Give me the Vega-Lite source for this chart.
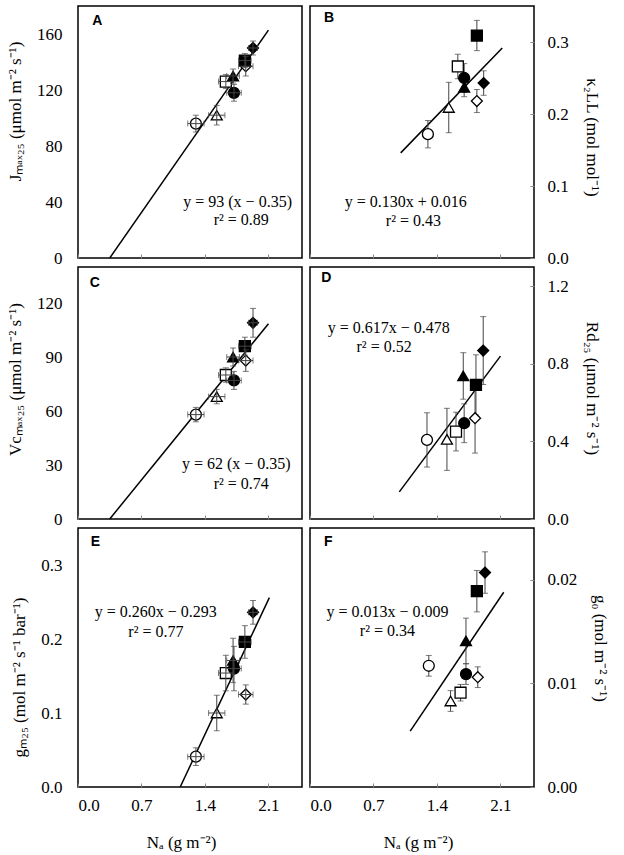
{
"$schema":"https://vega.github.io/schema/vega-lite/v6.json",
"background":"white",
"padding":{"left":5,"top":5,"right":5,"bottom":5},
"config":{
 "view":{"stroke":"black","strokeWidth":1.5},
 "axis":{"domain":false,"grid":false,"labelFont":"Liberation Serif","labelFontSize":17,"titleFont":"Liberation Serif","titleFontSize":17,"titleFontWeight":"normal","labelColor":"black","titleColor":"black","tickColor":"#888"}
},
"datasets":{
 "pts":[
  {"p":"A","t":"OC","na":1.30,"y":96,"ylo":90,"yhi":102,"xlo":1.21,"xhi":1.39},
  {"p":"A","t":"OT","na":1.53,"y":102,"ylo":95,"yhi":109,"xlo":1.44,"xhi":1.62},
  {"p":"A","t":"OS","na":1.63,"y":126,"ylo":121,"yhi":131,"xlo":1.55,"xhi":1.71},
  {"p":"A","t":"OD","na":1.85,"y":137,"ylo":130,"yhi":144,"xlo":1.77,"xhi":1.93},
  {"p":"A","t":"FC","na":1.72,"y":118,"ylo":112,"yhi":124,"xlo":1.64,"xhi":1.80},
  {"p":"A","t":"FT","na":1.71,"y":130,"ylo":125,"yhi":135,"xlo":1.64,"xhi":1.78},
  {"p":"A","t":"FS","na":1.84,"y":141,"ylo":136,"yhi":146,"xlo":1.77,"xhi":1.91},
  {"p":"A","t":"FD","na":1.93,"y":150,"ylo":145,"yhi":155,"xlo":1.88,"xhi":1.98},
  {"p":"C","t":"OC","na":1.30,"y":58,"ylo":54,"yhi":62,"xlo":1.21,"xhi":1.39},
  {"p":"C","t":"OT","na":1.53,"y":68,"ylo":64,"yhi":72,"xlo":1.44,"xhi":1.62},
  {"p":"C","t":"OS","na":1.63,"y":80,"ylo":76,"yhi":84,"xlo":1.55,"xhi":1.71},
  {"p":"C","t":"OD","na":1.85,"y":88,"ylo":82,"yhi":94,"xlo":1.77,"xhi":1.93},
  {"p":"C","t":"FC","na":1.72,"y":77,"ylo":72,"yhi":82,"xlo":1.64,"xhi":1.80},
  {"p":"C","t":"FT","na":1.71,"y":90,"ylo":85,"yhi":95,"xlo":1.64,"xhi":1.78},
  {"p":"C","t":"FS","na":1.84,"y":96,"ylo":91,"yhi":101,"xlo":1.77,"xhi":1.91},
  {"p":"C","t":"FD","na":1.93,"y":109,"ylo":101,"yhi":117,"xlo":1.88,"xhi":1.98},
  {"p":"E","t":"OC","na":1.30,"y":0.041,"ylo":0.029,"yhi":0.053,"xlo":1.21,"xhi":1.39},
  {"p":"E","t":"OT","na":1.53,"y":0.100,"ylo":0.076,"yhi":0.124,"xlo":1.44,"xhi":1.62},
  {"p":"E","t":"OS","na":1.63,"y":0.154,"ylo":0.130,"yhi":0.178,"xlo":1.55,"xhi":1.71},
  {"p":"E","t":"OD","na":1.85,"y":0.125,"ylo":0.112,"yhi":0.138,"xlo":1.77,"xhi":1.93},
  {"p":"E","t":"FC","na":1.72,"y":0.160,"ylo":0.130,"yhi":0.190,"xlo":1.64,"xhi":1.80},
  {"p":"E","t":"FT","na":1.71,"y":0.171,"ylo":0.141,"yhi":0.201,"xlo":1.64,"xhi":1.78},
  {"p":"E","t":"FS","na":1.84,"y":0.196,"ylo":0.174,"yhi":0.218,"xlo":1.77,"xhi":1.91},
  {"p":"E","t":"FD","na":1.93,"y":0.236,"ylo":0.220,"yhi":0.252,"xlo":1.88,"xhi":1.98},
  {"p":"B","t":"OC","na":1.30,"y":0.172,"ylo":0.153,"yhi":0.191},
  {"p":"B","t":"OT","na":1.53,"y":0.209,"ylo":0.174,"yhi":0.244},
  {"p":"B","t":"OS","na":1.63,"y":0.266,"ylo":0.249,"yhi":0.283},
  {"p":"B","t":"OD","na":1.84,"y":0.218,"ylo":0.202,"yhi":0.234},
  {"p":"B","t":"FC","na":1.70,"y":0.250,"ylo":0.230,"yhi":0.270},
  {"p":"B","t":"FT","na":1.70,"y":0.237,"ylo":0.224,"yhi":0.250},
  {"p":"B","t":"FS","na":1.84,"y":0.309,"ylo":0.288,"yhi":0.330},
  {"p":"B","t":"FD","na":1.915,"y":0.243,"ylo":0.226,"yhi":0.260},
  {"p":"D","t":"OC","na":1.29,"y":0.408,"ylo":0.268,"yhi":0.548},
  {"p":"D","t":"OT","na":1.51,"y":0.411,"ylo":0.251,"yhi":0.571},
  {"p":"D","t":"OS","na":1.61,"y":0.451,"ylo":0.351,"yhi":0.551},
  {"p":"D","t":"OD","na":1.82,"y":0.52,"ylo":0.34,"yhi":0.70},
  {"p":"D","t":"FC","na":1.70,"y":0.494,"ylo":0.394,"yhi":0.594},
  {"p":"D","t":"FT","na":1.69,"y":0.738,"ylo":0.618,"yhi":0.858},
  {"p":"D","t":"FS","na":1.83,"y":0.692,"ylo":0.537,"yhi":0.847},
  {"p":"D","t":"FD","na":1.91,"y":0.869,"ylo":0.694,"yhi":1.044},
  {"p":"F","t":"OC","na":1.31,"y":0.0117,"ylo":0.0107,"yhi":0.0127},
  {"p":"F","t":"OT","na":1.55,"y":0.0083,"ylo":0.0073,"yhi":0.0093},
  {"p":"F","t":"OS","na":1.66,"y":0.0091,"ylo":0.0083,"yhi":0.0099},
  {"p":"F","t":"OD","na":1.85,"y":0.0106,"ylo":0.0096,"yhi":0.0116},
  {"p":"F","t":"FC","na":1.72,"y":0.0109,"ylo":0.0099,"yhi":0.0119},
  {"p":"F","t":"FT","na":1.72,"y":0.0141,"ylo":0.0119,"yhi":0.0163},
  {"p":"F","t":"FS","na":1.84,"y":0.0189,"ylo":0.0169,"yhi":0.0209},
  {"p":"F","t":"FD","na":1.93,"y":0.0207,"ylo":0.0187,"yhi":0.0227}
 ],
 "lines":[
  {"p":"A","na":0.35,"y":0},{"p":"A","na":2.1,"y":162.75},
  {"p":"B","na":1.0,"y":0.146},{"p":"B","na":2.12,"y":0.2916},
  {"p":"C","na":0.35,"y":0},{"p":"C","na":2.1,"y":108.5},
  {"p":"D","na":0.985,"y":0.14},{"p":"D","na":2.1,"y":0.84},
  {"p":"E","na":1.127,"y":0},{"p":"E","na":2.11,"y":0.256},
  {"p":"F","na":1.105,"y":0.0054},{"p":"F","na":2.136,"y":0.0188}
 ]
},
"columns":2,
"align":"each",
"spacing":{"row":-1,"column":5},
"concat":[
 {"width":224,"height":252,
  "layer":[
   {"data":{"name":"lines"},"transform":[{"filter":"datum.p==='A'"}],
    "mark":{"type":"line","color":"black","strokeWidth":1.5},
    "encoding":{
     "x":{"field":"na","type":"quantitative","scale":{"domain":[0,2.47],"nice":false,"zero":false},"axis":{"values":[0,0.7,1.4,2.1],"labels":false,"title":null,"tickSize":-4}},
     "y":{"field":"y","type":"quantitative","scale":{"domain":[0,180],"nice":false},"axis":{"values":[0,40,80,120,160],"format":"d","title":"Jₘₐₓ₂₅ (μmol m⁻² s⁻¹)","ticks":false,"labelPadding":16,"titlePadding":12,"titleY":105}}}},
   {"data":{"name":"pts"},"transform":[{"filter":"datum.p==='A'"}],
    "mark":{"type":"point","filled":true,"size":120,"stroke":"black","strokeWidth":1.3,"opacity":1},
    "encoding":{"x":{"field":"na","type":"quantitative"},"y":{"field":"y","type":"quantitative"},
     "shape":{"field":"t","type":"nominal","scale":{"domain":["OC","OT","OS","OD","FC","FT","FS","FD"],"range":["circle","triangle-up","square","diamond","circle","triangle-up","square","diamond"]},"legend":null},
     "fill":{"field":"t","type":"nominal","scale":{"domain":["OC","OT","OS","OD","FC","FT","FS","FD"],"range":["white","white","white","white","black","black","black","black"]},"legend":null}}},
   {"data":{"name":"pts"},"transform":[{"filter":"datum.p==='A'"}],
    "mark":{"type":"errorbar","ticks":true,"size":6,"thickness":1,"color":"#444"},
    "encoding":{"x":{"field":"na","type":"quantitative"},"y":{"field":"ylo","type":"quantitative","title":"Jₘₐₓ₂₅ (μmol m⁻² s⁻¹)"},"y2":{"field":"yhi"}}},
   {"data":{"name":"pts"},"transform":[{"filter":"datum.p==='A'"}],
    "mark":{"type":"errorbar","ticks":true,"size":6,"thickness":1,"color":"#444"},
    "encoding":{"y":{"field":"y","type":"quantitative"},"x":{"field":"xlo","type":"quantitative","title":null},"x2":{"field":"xhi"}}},
   {"data":{"values":[{}]},"mark":{"type":"text","text":"y = 93 (x − 0.35)","font":"Liberation Serif","fontSize":16,"align":"center","baseline":"middle"},
    "encoding":{"x":{"datum":1.76,"type":"quantitative"},"y":{"datum":40,"type":"quantitative"}}},
   {"data":{"values":[{}]},"mark":{"type":"text","text":"r² = 0.89","font":"Liberation Serif","fontSize":16,"align":"center","baseline":"middle"},
    "encoding":{"x":{"datum":1.80,"type":"quantitative"},"y":{"datum":27.5,"type":"quantitative"}}},
   {"data":{"values":[{}]},"mark":{"type":"text","text":"A","font":"Liberation Sans","fontWeight":"bold","fontSize":14,"align":"left","baseline":"middle"},
    "encoding":{"x":{"datum":0.158,"type":"quantitative"},"y":{"datum":169.5,"type":"quantitative"}}}
  ]},
 {"width":224,"height":252,
  "layer":[
   {"data":{"name":"lines"},"transform":[{"filter":"datum.p==='B'"}],
    "mark":{"type":"line","color":"black","strokeWidth":1.5},
    "encoding":{
     "x":{"field":"na","type":"quantitative","scale":{"domain":[0,2.47],"nice":false,"zero":false},"axis":{"values":[0,0.7,1.4,2.1],"labels":false,"title":null,"tickSize":-4}},
     "y":{"field":"y","type":"quantitative","scale":{"domain":[0,0.35],"nice":false},"axis":{"orient":"right","values":[0,0.1,0.2,0.3],"format":".1f","title":"κ₂LL (mol mol⁻¹)","tickSize":-4,"labelPadding":17,"titlePadding":14,"titleY":131}}}},
   {"data":{"name":"pts"},"transform":[{"filter":"datum.p==='B'"}],
    "mark":{"type":"errorbar","ticks":true,"size":6,"thickness":1,"color":"#444"},
    "encoding":{"x":{"field":"na","type":"quantitative"},"y":{"field":"ylo","type":"quantitative","title":"κ₂LL (mol mol⁻¹)"},"y2":{"field":"yhi"}}},
   {"data":{"name":"pts"},"transform":[{"filter":"datum.p==='B'"}],
    "mark":{"type":"point","filled":true,"size":120,"stroke":"black","strokeWidth":1.3,"opacity":1},
    "encoding":{"x":{"field":"na","type":"quantitative"},"y":{"field":"y","type":"quantitative"},
     "shape":{"field":"t","type":"nominal","scale":{"domain":["OC","OT","OS","OD","FC","FT","FS","FD"],"range":["circle","triangle-up","square","diamond","circle","triangle-up","square","diamond"]},"legend":null},
     "fill":{"field":"t","type":"nominal","scale":{"domain":["OC","OT","OS","OD","FC","FT","FS","FD"],"range":["white","white","white","white","black","black","black","black"]},"legend":null}}},
   {"data":{"values":[{}]},"mark":{"type":"text","text":"y = 0.130x + 0.016","font":"Liberation Serif","fontSize":16,"align":"center","baseline":"middle"},
    "encoding":{"x":{"datum":1.056,"type":"quantitative"},"y":{"datum":0.078,"type":"quantitative"}}},
   {"data":{"values":[{}]},"mark":{"type":"text","text":"r² = 0.43","font":"Liberation Serif","fontSize":16,"align":"center","baseline":"middle"},
    "encoding":{"x":{"datum":1.14,"type":"quantitative"},"y":{"datum":0.052,"type":"quantitative"}}},
   {"data":{"values":[{}]},"mark":{"type":"text","text":"B","font":"Liberation Sans","fontWeight":"bold","fontSize":14,"align":"left","baseline":"middle"},
    "encoding":{"x":{"datum":0.154,"type":"quantitative"},"y":{"datum":0.333,"type":"quantitative"}}}
  ]},
 {"width":224,"height":252,
  "layer":[
   {"data":{"name":"lines"},"transform":[{"filter":"datum.p==='C'"}],
    "mark":{"type":"line","color":"black","strokeWidth":1.5},
    "encoding":{
     "x":{"field":"na","type":"quantitative","scale":{"domain":[0,2.47],"nice":false,"zero":false},"axis":{"values":[0,0.7,1.4,2.1],"labels":false,"title":null,"tickSize":-4}},
     "y":{"field":"y","type":"quantitative","scale":{"domain":[0,140],"nice":false},"axis":{"values":[0,30,60,90,120],"format":"d","title":"Vcₘₐₓ₂₅ (μmol m⁻² s⁻¹)","ticks":false,"labelPadding":16,"titlePadding":12,"titleY":112}}}},
   {"data":{"name":"pts"},"transform":[{"filter":"datum.p==='C'"}],
    "mark":{"type":"point","filled":true,"size":120,"stroke":"black","strokeWidth":1.3,"opacity":1},
    "encoding":{"x":{"field":"na","type":"quantitative"},"y":{"field":"y","type":"quantitative"},
     "shape":{"field":"t","type":"nominal","scale":{"domain":["OC","OT","OS","OD","FC","FT","FS","FD"],"range":["circle","triangle-up","square","diamond","circle","triangle-up","square","diamond"]},"legend":null},
     "fill":{"field":"t","type":"nominal","scale":{"domain":["OC","OT","OS","OD","FC","FT","FS","FD"],"range":["white","white","white","white","black","black","black","black"]},"legend":null}}},
   {"data":{"name":"pts"},"transform":[{"filter":"datum.p==='C'"}],
    "mark":{"type":"errorbar","ticks":true,"size":6,"thickness":1,"color":"#444"},
    "encoding":{"x":{"field":"na","type":"quantitative"},"y":{"field":"ylo","type":"quantitative","title":"Vcₘₐₓ₂₅ (μmol m⁻² s⁻¹)"},"y2":{"field":"yhi"}}},
   {"data":{"name":"pts"},"transform":[{"filter":"datum.p==='C'"}],
    "mark":{"type":"errorbar","ticks":true,"size":6,"thickness":1,"color":"#444"},
    "encoding":{"y":{"field":"y","type":"quantitative"},"x":{"field":"xlo","type":"quantitative","title":null},"x2":{"field":"xhi"}}},
   {"data":{"values":[{}]},"mark":{"type":"text","text":"y = 62 (x − 0.35)","font":"Liberation Serif","fontSize":16,"align":"center","baseline":"middle"},
    "encoding":{"x":{"datum":1.746,"type":"quantitative"},"y":{"datum":30.6,"type":"quantitative"}}},
   {"data":{"values":[{}]},"mark":{"type":"text","text":"r² = 0.74","font":"Liberation Serif","fontSize":16,"align":"center","baseline":"middle"},
    "encoding":{"x":{"datum":1.80,"type":"quantitative"},"y":{"datum":19.6,"type":"quantitative"}}},
   {"data":{"values":[{}]},"mark":{"type":"text","text":"C","font":"Liberation Sans","fontWeight":"bold","fontSize":14,"align":"left","baseline":"middle"},
    "encoding":{"x":{"datum":0.13,"type":"quantitative"},"y":{"datum":131,"type":"quantitative"}}}
  ]},
 {"width":224,"height":252,
  "layer":[
   {"data":{"name":"lines"},"transform":[{"filter":"datum.p==='D'"}],
    "mark":{"type":"line","color":"black","strokeWidth":1.5},
    "encoding":{
     "x":{"field":"na","type":"quantitative","scale":{"domain":[0,2.47],"nice":false,"zero":false},"axis":{"values":[0,0.7,1.4,2.1],"labels":false,"title":null,"tickSize":-4}},
     "y":{"field":"y","type":"quantitative","scale":{"domain":[0,1.3],"nice":false},"axis":{"orient":"right","values":[0,0.4,0.8,1.2],"format":".1f","title":"Rd₂₅ (μmol m⁻² s⁻¹)","tickSize":-4,"labelPadding":17,"titlePadding":14,"titleY":121}}}},
   {"data":{"name":"pts"},"transform":[{"filter":"datum.p==='D'"}],
    "mark":{"type":"errorbar","ticks":true,"size":6,"thickness":1,"color":"#444"},
    "encoding":{"x":{"field":"na","type":"quantitative"},"y":{"field":"ylo","type":"quantitative","title":"Rd₂₅ (μmol m⁻² s⁻¹)"},"y2":{"field":"yhi"}}},
   {"data":{"name":"pts"},"transform":[{"filter":"datum.p==='D'"}],
    "mark":{"type":"point","filled":true,"size":120,"stroke":"black","strokeWidth":1.3,"opacity":1},
    "encoding":{"x":{"field":"na","type":"quantitative"},"y":{"field":"y","type":"quantitative"},
     "shape":{"field":"t","type":"nominal","scale":{"domain":["OC","OT","OS","OD","FC","FT","FS","FD"],"range":["circle","triangle-up","square","diamond","circle","triangle-up","square","diamond"]},"legend":null},
     "fill":{"field":"t","type":"nominal","scale":{"domain":["OC","OT","OS","OD","FC","FT","FS","FD"],"range":["white","white","white","white","black","black","black","black"]},"legend":null}}},
   {"data":{"values":[{}]},"mark":{"type":"text","text":"y = 0.617x − 0.478","font":"Liberation Serif","fontSize":16,"align":"center","baseline":"middle"},
    "encoding":{"x":{"datum":0.868,"type":"quantitative"},"y":{"datum":0.984,"type":"quantitative"}}},
   {"data":{"values":[{}]},"mark":{"type":"text","text":"r² = 0.52","font":"Liberation Serif","fontSize":16,"align":"center","baseline":"middle"},
    "encoding":{"x":{"datum":0.817,"type":"quantitative"},"y":{"datum":0.886,"type":"quantitative"}}},
   {"data":{"values":[{}]},"mark":{"type":"text","text":"D","font":"Liberation Sans","fontWeight":"bold","fontSize":14,"align":"left","baseline":"middle"},
    "encoding":{"x":{"datum":0.125,"type":"quantitative"},"y":{"datum":1.244,"type":"quantitative"}}}
  ]},
 {"width":224,"height":259,
  "layer":[
   {"data":{"name":"lines"},"transform":[{"filter":"datum.p==='E'"}],
    "mark":{"type":"line","color":"black","strokeWidth":1.5},
    "encoding":{
     "x":{"field":"na","type":"quantitative","scale":{"domain":[0,2.47],"nice":false,"zero":false},"axis":{"values":[0,0.7,1.4,2.1],"format":".1f","title":"Nₐ (g m⁻²)","tickSize":-4,"labelPadding":14,"titlePadding":21,"titleX":103}},
     "y":{"field":"y","type":"quantitative","scale":{"domain":[0,0.35],"nice":false},"axis":{"values":[0,0.1,0.2,0.3],"format":".1f","title":"gₘ₂₅ (mol m⁻² s⁻¹ bar⁻¹)","ticks":false,"labelPadding":16,"titlePadding":12,"titleY":149}}}},
   {"data":{"name":"pts"},"transform":[{"filter":"datum.p==='E'"}],
    "mark":{"type":"point","filled":true,"size":120,"stroke":"black","strokeWidth":1.3,"opacity":1},
    "encoding":{"x":{"field":"na","type":"quantitative"},"y":{"field":"y","type":"quantitative"},
     "shape":{"field":"t","type":"nominal","scale":{"domain":["OC","OT","OS","OD","FC","FT","FS","FD"],"range":["circle","triangle-up","square","diamond","circle","triangle-up","square","diamond"]},"legend":null},
     "fill":{"field":"t","type":"nominal","scale":{"domain":["OC","OT","OS","OD","FC","FT","FS","FD"],"range":["white","white","white","white","black","black","black","black"]},"legend":null}}},
   {"data":{"name":"pts"},"transform":[{"filter":"datum.p==='E'"}],
    "mark":{"type":"errorbar","ticks":true,"size":6,"thickness":1,"color":"#444"},
    "encoding":{"x":{"field":"na","type":"quantitative","title":"Nₐ (g m⁻²)"},"y":{"field":"ylo","type":"quantitative","title":"gₘ₂₅ (mol m⁻² s⁻¹ bar⁻¹)"},"y2":{"field":"yhi"}}},
   {"data":{"name":"pts"},"transform":[{"filter":"datum.p==='E'"}],
    "mark":{"type":"errorbar","ticks":true,"size":6,"thickness":1,"color":"#444"},
    "encoding":{"y":{"field":"y","type":"quantitative","title":"gₘ₂₅ (mol m⁻² s⁻¹ bar⁻¹)"},"x":{"field":"xlo","type":"quantitative","title":"Nₐ (g m⁻²)"},"x2":{"field":"xhi"}}},
   {"data":{"values":[{}]},"mark":{"type":"text","text":"y = 0.260x − 0.293","font":"Liberation Serif","fontSize":16,"align":"center","baseline":"middle"},
    "encoding":{"x":{"datum":0.858,"type":"quantitative"},"y":{"datum":0.237,"type":"quantitative"}}},
   {"data":{"values":[{}]},"mark":{"type":"text","text":"r² = 0.77","font":"Liberation Serif","fontSize":16,"align":"center","baseline":"middle"},
    "encoding":{"x":{"datum":0.859,"type":"quantitative"},"y":{"datum":0.209,"type":"quantitative"}}},
   {"data":{"values":[{}]},"mark":{"type":"text","text":"E","font":"Liberation Sans","fontWeight":"bold","fontSize":14,"align":"left","baseline":"middle"},
    "encoding":{"x":{"datum":0.14,"type":"quantitative"},"y":{"datum":0.331,"type":"quantitative"}}}
  ]},
 {"width":224,"height":259,
  "layer":[
   {"data":{"name":"lines"},"transform":[{"filter":"datum.p==='F'"}],
    "mark":{"type":"line","color":"black","strokeWidth":1.5},
    "encoding":{
     "x":{"field":"na","type":"quantitative","scale":{"domain":[0,2.47],"nice":false,"zero":false},"axis":{"values":[0,0.7,1.4,2.1],"format":".1f","title":"Nₐ (g m⁻²)","tickSize":-4,"labelPadding":14,"titlePadding":21,"titleX":108}},
     "y":{"field":"y","type":"quantitative","scale":{"domain":[0,0.025],"nice":false},"axis":{"orient":"right","values":[0,0.01,0.02],"format":".2f","title":"g₀ (mol m⁻² s⁻¹)","tickSize":-4,"labelPadding":17,"titlePadding":14,"titleY":120}}}},
   {"data":{"name":"pts"},"transform":[{"filter":"datum.p==='F'"}],
    "mark":{"type":"errorbar","ticks":true,"size":6,"thickness":1,"color":"#444"},
    "encoding":{"x":{"field":"na","type":"quantitative","title":"Nₐ (g m⁻²)"},"y":{"field":"ylo","type":"quantitative","title":"g₀ (mol m⁻² s⁻¹)"},"y2":{"field":"yhi"}}},
   {"data":{"name":"pts"},"transform":[{"filter":"datum.p==='F'"}],
    "mark":{"type":"point","filled":true,"size":120,"stroke":"black","strokeWidth":1.3,"opacity":1},
    "encoding":{"x":{"field":"na","type":"quantitative"},"y":{"field":"y","type":"quantitative"},
     "shape":{"field":"t","type":"nominal","scale":{"domain":["OC","OT","OS","OD","FC","FT","FS","FD"],"range":["circle","triangle-up","square","diamond","circle","triangle-up","square","diamond"]},"legend":null},
     "fill":{"field":"t","type":"nominal","scale":{"domain":["OC","OT","OS","OD","FC","FT","FS","FD"],"range":["white","white","white","white","black","black","black","black"]},"legend":null}}},
   {"data":{"values":[{}]},"mark":{"type":"text","text":"y = 0.013x − 0.009","font":"Liberation Serif","fontSize":16,"align":"center","baseline":"middle"},
    "encoding":{"x":{"datum":0.854,"type":"quantitative"},"y":{"datum":0.01693,"type":"quantitative"}}},
   {"data":{"values":[{}]},"mark":{"type":"text","text":"r² = 0.34","font":"Liberation Serif","fontSize":16,"align":"center","baseline":"middle"},
    "encoding":{"x":{"datum":0.854,"type":"quantitative"},"y":{"datum":0.01502,"type":"quantitative"}}},
   {"data":{"values":[{}]},"mark":{"type":"text","text":"F","font":"Liberation Sans","fontWeight":"bold","fontSize":14,"align":"left","baseline":"middle"},
    "encoding":{"x":{"datum":0.154,"type":"quantitative"},"y":{"datum":0.02366,"type":"quantitative"}}}
  ]}
]
}
